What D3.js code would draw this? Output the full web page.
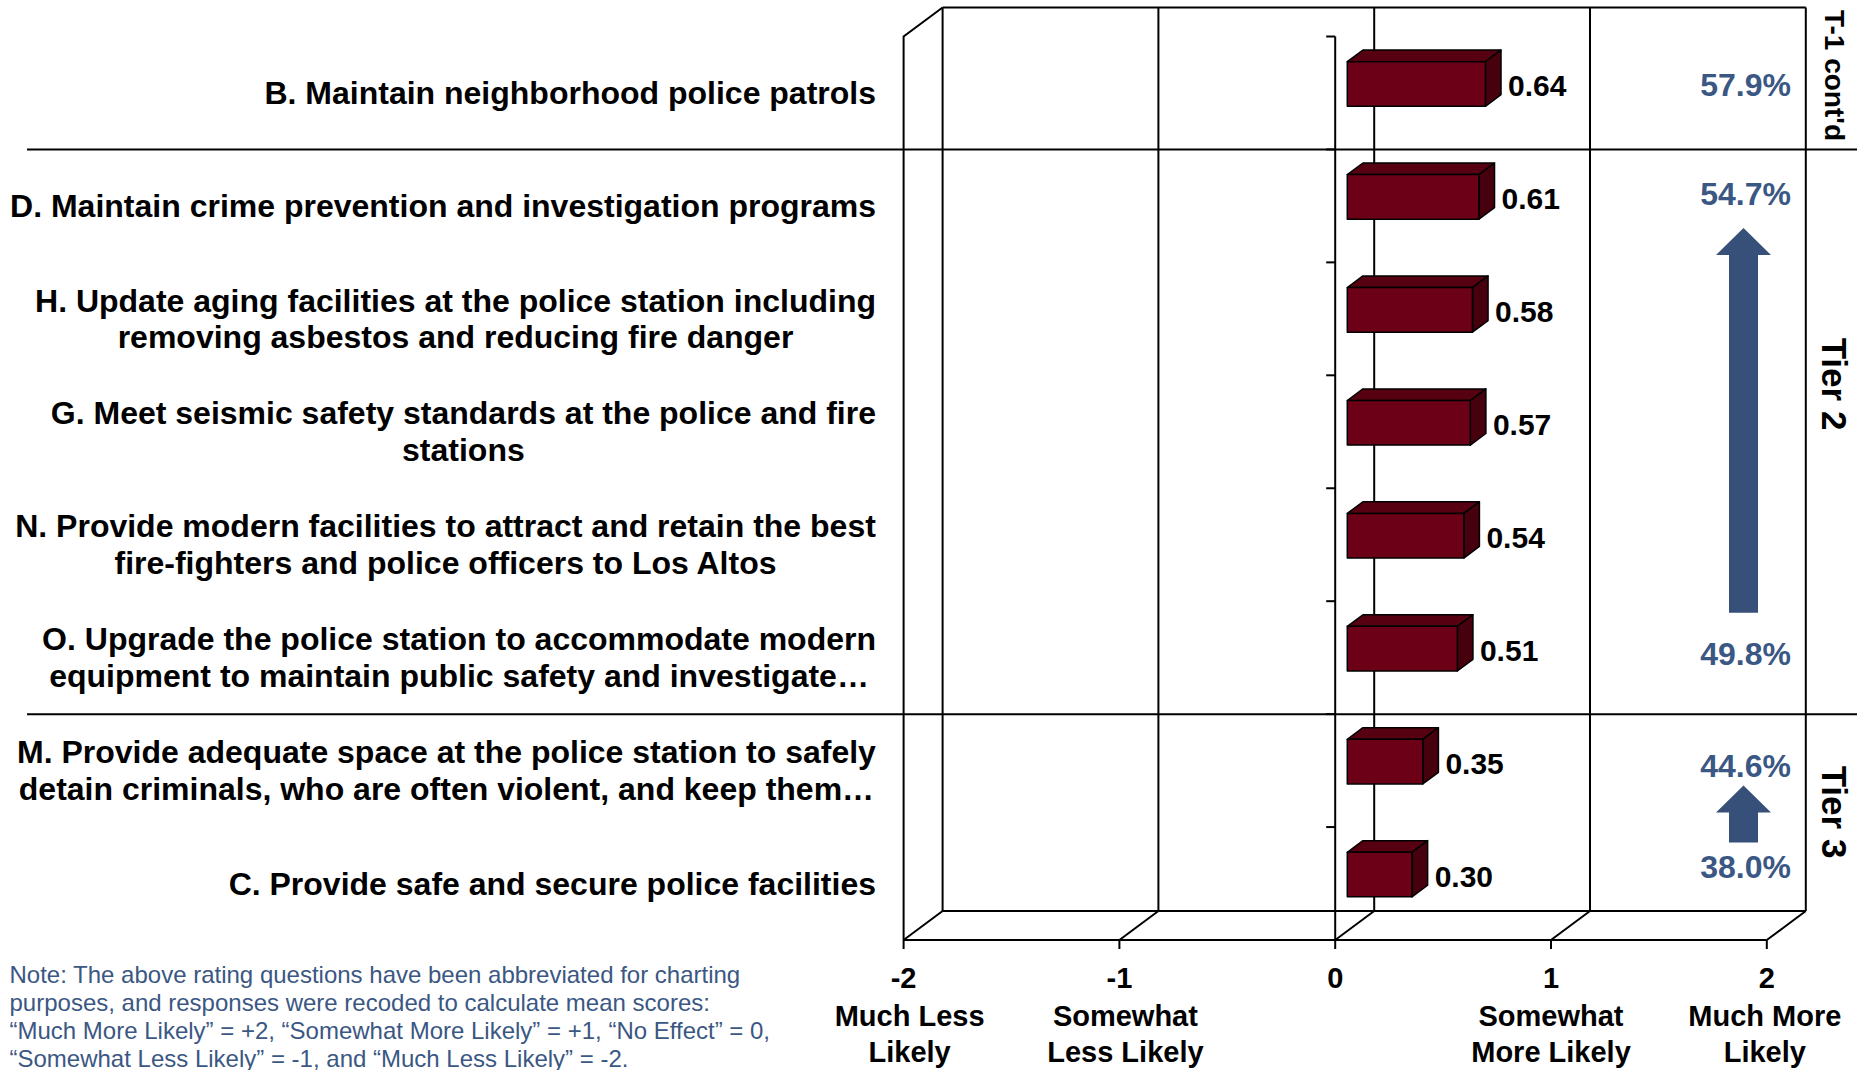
<!DOCTYPE html>
<html>
<head>
<meta charset="utf-8">
<script src="https://cdn.jsdelivr.net/npm/d3@7"></script>
<style>
  body { margin: 0; background: #fff; }
  svg { display: block; font-family: Arial, "Liberation Sans", sans-serif; }
</style>
</head>
<body>
<div id="chart"></div>
<script>
// data
var categories = [
  ["B. Maintain neighborhood police patrols"],
  ["D. Maintain crime prevention and investigation programs"],
  ["H. Update aging facilities at the police station including", "removing asbestos and reducing fire danger"],
  ["G. Meet seismic safety standards at the police and fire", "stations"],
  ["N. Provide modern facilities to attract and retain the best", "fire-fighters and police officers to Los Altos"],
  ["O. Upgrade the police station to accommodate modern", "equipment to maintain public safety and investigate\u2026"],
  ["M. Provide adequate space at the police station to safely", "detain criminals, who are often violent, and keep them\u2026"],
  ["C. Provide safe and secure police facilities"]
];
var means = [0.64, 0.61, 0.58, 0.57, 0.54, 0.51, 0.35, 0.30];

var tickValues = [-2, -1, 0, 1, 2];
var tickLabels = [["Much Less", "Likely"], ["Somewhat", "Less Likely"], [], ["Somewhat", "More Likely"], ["Much More", "Likely"]];

// tiers: first row, last row, label, percents (top / bottom)
var tierNames = ["T-1 cont'd", "Tier 2", "Tier 3"];
var tierRows = [[0, 0], [1, 5], [6, 7]];
var tierPcts = [[57.9], [54.7, 49.8], [44.6, 38.0]];

var noteLines = [
  "Note: The above rating questions have been abbreviated for charting",
  "purposes, and responses were recoded to calculate mean scores:",
  "\u201cMuch More Likely\u201d = +2, \u201cSomewhat More Likely\u201d = +1, \u201cNo Effect\u201d = 0,",
  "\u201cSomewhat Less Likely\u201d = -1, and \u201cMuch Less Likely\u201d = -2."
];

// layout
var W = 1857, H = 1070;
var depthX = 39, depthY = -29;     // 3d offset front -> back wall
var barD0 = 0.31, barD1 = 0.71;    // bar depth as fraction of the floor depth
var blue = "#3b5783", arrowBlue = "#375079";

var svg = d3.select("#chart").append("svg")
  .attr("width", W)
  .attr("height", H);

var x = d3.scaleLinear().domain([-2, 2]).range([903.6, 1766.8]);
var y = d3.scaleBand().domain(d3.range(categories.length)).range([36.5, 940]).padding(0);
var bw = y.bandwidth();
var yTop = y.range()[0], yBot = y.range()[1];

// back wall + floor
var frame = svg.append("g").attr("stroke", "#000").attr("stroke-width", 2).attr("fill", "none");

tickValues.forEach(function (v) {
  // gridline on back wall
  frame.append("line")
    .attr("x1", x(v) + depthX).attr("x2", x(v) + depthX)
    .attr("y1", yTop + depthY).attr("y2", yBot + depthY);
  // floor diagonal
  frame.append("line")
    .attr("x1", x(v)).attr("y1", yBot)
    .attr("x2", x(v) + depthX).attr("y2", yBot + depthY);
  // tick below floor
  frame.append("line")
    .attr("x1", x(v)).attr("x2", x(v))
    .attr("y1", yBot).attr("y2", yBot + 9);
});

frame.append("line") // top of back wall
  .attr("x1", x(-2) + depthX).attr("x2", x(2) + depthX)
  .attr("y1", yTop + depthY).attr("y2", yTop + depthY);
frame.append("line") // back floor edge
  .attr("x1", x(-2) + depthX).attr("x2", x(2) + depthX)
  .attr("y1", yBot + depthY).attr("y2", yBot + depthY);
frame.append("line") // front floor edge
  .attr("x1", x(-2)).attr("x2", x(2))
  .attr("y1", yBot).attr("y2", yBot);
frame.append("path") // side wall front edge
  .attr("d", "M" + (x(-2) + depthX) + "," + (yTop + depthY) + "L" + x(-2) + "," + yTop + "L" + x(-2) + "," + yBot);

// category axis at zero on the front plane
frame.append("line")
  .attr("x1", x(0)).attr("x2", x(0))
  .attr("y1", yTop).attr("y2", yBot);
d3.range(categories.length + 1).forEach(function (i) {
  frame.append("line")
    .attr("x1", x(0) - 9).attr("x2", x(0))
    .attr("y1", yTop + i * bw).attr("y2", yTop + i * bw);
});

// 3d bars
var bh = bw * 0.395;
var f0x = depthX * barD0, f0y = depthY * barD0;
var f1x = depthX * barD1, f1y = depthY * barD1;

var bars = svg.append("g").selectAll("g")
  .data(means)
  .enter().append("g")
  .attr("stroke", "#000")
  .attr("stroke-width", 1.5)
  .attr("stroke-linejoin", "round");

bars.each(function (d, i) {
  var g = d3.select(this);
  var xl = x(0) + f0x, xr = x(d) + f0x;
  var yc = y(i) + bw / 2 + f0y;
  var t = yc - bh / 2, b = yc + bh / 2;
  var ox = f1x - f0x, oy = f1y - f0y;
  // top face
  g.append("path")
    .attr("fill", "#560012")
    .attr("d", "M" + xl + "," + t + "L" + (xl + ox) + "," + (t + oy) + "L" + (xr + ox) + "," + (t + oy) + "L" + xr + "," + t + "Z");
  // side face
  g.append("path")
    .attr("fill", "#47000e")
    .attr("d", "M" + xr + "," + t + "L" + (xr + ox) + "," + (t + oy) + "L" + (xr + ox) + "," + (b + oy) + "L" + xr + "," + b + "Z");
  // front face
  g.append("rect")
    .attr("fill", "#6c0016")
    .attr("x", xl).attr("y", t)
    .attr("width", xr - xl).attr("height", bh);
});

// value labels
svg.append("g").selectAll("text")
  .data(means)
  .enter().append("text")
  .attr("x", function (d) { return x(d) + f1x + 7; })
  .attr("y", function (d, i) { return y(i) + bw / 2 + f0y + 2; })
  .attr("dominant-baseline", "central")
  .attr("font-size", 30)
  .attr("font-weight", "bold")
  .text(function (d) { return d.toFixed(2); });

// category labels
var catLabels = svg.append("g").selectAll("text")
  .data(categories)
  .enter().append("text")
  .attr("text-anchor", "middle")
  .attr("font-size", 32)
  .attr("font-weight", "bold")
  .attr("transform", function (d, i) {
    return "translate(0," + (y(i) + bw / 2) + ")";
  });

catLabels.each(function (lines) {
  var t = d3.select(this);
  lines.forEach(function (s, k) {
    t.append("tspan")
      .attr("x", 0)
      .attr("y", (k - (lines.length - 1) / 2) * 36.7)
      .attr("dominant-baseline", "central")
      .text(s);
  });
});
// right-align each block, but center the lines of a block on each other
catLabels.each(function () {
  var t = d3.select(this);
  var tw = this.getBBox().width;
  var tr = t.attr("transform");
  t.attr("transform", tr.replace("translate(0,", "translate(" + (876 - tw / 2) + ","));
});

// axis tick labels
var labelNudge = [6, 6, 0, 0, -2];
var xl = svg.append("g").attr("font-weight", "bold").attr("font-size", 29).attr("text-anchor", "middle");
tickValues.forEach(function (v, i) {
  xl.append("text")
    .attr("x", x(v)).attr("y", 978)
    .attr("dominant-baseline", "central")
    .text(v);
  tickLabels[i].forEach(function (s, k) {
    xl.append("text")
      .attr("x", x(v) + labelNudge[i]).attr("y", 1016 + k * 35.6)
      .attr("dominant-baseline", "central")
      .text(s);
  });
});

// tier dividers
tierRows.slice(1).forEach(function (r) {
  svg.append("line")
    .attr("x1", 27).attr("x2", W)
    .attr("y1", yTop + r[0] * bw).attr("y2", yTop + r[0] * bw)
    .attr("stroke", "#000").attr("stroke-width", 2);
});

// tier labels
var tierLabelY = [75.5, 384, 812];
var tierFont = [28, 35, 35];
tierNames.forEach(function (name, i) {
  svg.append("text")
    .attr("transform", "translate(1834," + tierLabelY[i] + ") rotate(90)")
    .attr("text-anchor", "middle")
    .attr("dominant-baseline", "central")
    .attr("font-weight", "bold")
    .attr("font-size", tierFont[i])
    .text(name);
});

// percentages and arrows
var pctNudge = [[1], [-3, 5], [4, -8]];
var arrowGap = [[0, 0], [34, 41], [20, 24]];
var pctX = 1791, arrowX = 1743.5;
tierPcts.forEach(function (p, i) {
  var ys = p.map(function (v, k) {
    var row = tierRows[i][k];
    return y(row) + bw / 2 + f0y + pctNudge[i][k];
  });
  p.forEach(function (v, k) {
    svg.append("text")
      .attr("x", pctX).attr("y", ys[k])
      .attr("text-anchor", "end")
      .attr("dominant-baseline", "central")
      .attr("font-size", 32)
      .attr("font-weight", "bold")
      .attr("fill", blue)
      .text(v.toFixed(1) + "%");
  });
  if (p.length === 2) {
    var tip = ys[0] + arrowGap[i][0], tail = ys[1] - arrowGap[i][1];
    var sw = 14.5, hw = 27.5, hl = 27;
    svg.append("path")
      .attr("fill", arrowBlue)
      .attr("d", "M" + arrowX + "," + tip +
        "L" + (arrowX + hw) + "," + (tip + hl) +
        "L" + (arrowX + sw) + "," + (tip + hl) +
        "L" + (arrowX + sw) + "," + tail +
        "L" + (arrowX - sw) + "," + tail +
        "L" + (arrowX - sw) + "," + (tip + hl) +
        "L" + (arrowX - hw) + "," + (tip + hl) + "Z");
  }
});

// footnote
svg.append("g").selectAll("text")
  .data(noteLines)
  .enter().append("text")
  .attr("x", 9.5)
  .attr("y", function (d, i) { return 974.6 + i * 28.1; })
  .attr("dominant-baseline", "central")
  .attr("font-size", 24)
  .attr("fill", blue)
  .text(function (d) { return d; });
</script>
</body>
</html>
